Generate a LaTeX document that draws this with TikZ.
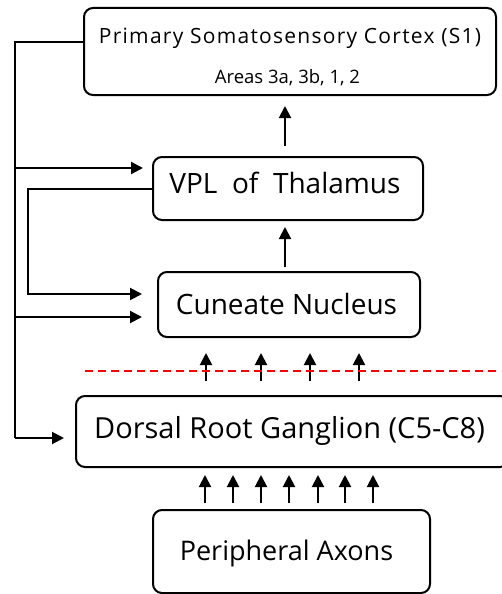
\documentclass[tikz,border=0pt]{standalone}
\usepackage{fontspec}
\setmainfont{Open Sans}
\usetikzlibrary{arrows.meta}
\tikzset{
  box/.style={draw=black, line width=2pt, rounded corners=9pt, inner sep=0pt},
  conn/.style={line width=2pt, -{Triangle[length=12pt,width=12pt]}},
  line/.style={line width=2pt},
  txt/.style={inner sep=0pt, text=black, anchor=base}
}
\begin{document}
\begin{tikzpicture}[x=1pt,y=-1pt]
\useasboundingbox (0,0) rectangle (501,594);
% boxes
\node[box, minimum width=412pt, minimum height=87pt] (s1) at (290,51.5) {};
\node[txt, font=\fontsize{21}{24}\selectfont\addfontfeature{LetterSpace=6}] (s1a) at (290,44) {Primary Somatosensory Cortex (S1)};
\node[txt, font=\fontsize{18.5}{22}\selectfont] (s1b) at (287.5,83) {Areas 3a, 3b, 1, 2};
\node[box, minimum width=270pt, minimum height=63pt] (vpl) at (288,188.5) {};
\node[txt, font=\fontsize{28}{32}\selectfont] (vplt) at (285,193) {VPL\ \ of\ \ Thalamus};
\node[box, minimum width=262pt, minimum height=65pt] (cun) at (289,304.5) {};
\node[txt, font=\fontsize{28}{32}\selectfont] (cunt) at (286.5,314) {Cuneate Nucleus};
\node[box, minimum width=433pt, minimum height=71pt] (drg) at (292.5,431.5) {};
\node[txt, font=\fontsize{29}{32}\selectfont] (drgt) at (289.5,438) {Dorsal Root Ganglion (C5-C8)};
\node[box, minimum width=277pt, minimum height=83pt] (pa) at (291.5,551.5) {};
\node[txt, font=\fontsize{27}{32}\selectfont] (pat) at (286.5,560) {Peripheral Axons};
% vertical arrows
\draw[conn, shorten <=10pt, shorten >=10pt] (vpl.north -| 285,0) -- (s1.south -| 285,0);
\draw[conn, shorten <=4pt, shorten >=6pt] (cun.north -| 285,0) -- (vpl.south -| 285,0);
\foreach \x in {206,261,310,359}
  \draw[conn, shorten <=14pt, shorten >=15pt] (drg.north -| \x,0) -- (cun.south -| \x,0);
\foreach \x in {205,233,261,289,318,345,373}
  \draw[conn, shorten <=6pt, shorten >=7pt] (pa.north -| \x,0) -- (drg.south -| \x,0);
% red dashed line
\coordinate (dl) at (85,371);
\coordinate (dr) at (501,371);
\draw[red, line width=2pt, dash pattern=on 8pt off 5pt] (dl) -- (dr);
% left feedback lines
\coordinate (o1) at (15,42);
\coordinate (o2) at (15,438);
\draw[line] (s1.west |- o1) -- (o1) -- (o2);
\draw[conn, shorten >=11pt] (o2) -- (drg.west |- o2);
\coordinate (b1) at (15,168);
\draw[conn, shorten >=9pt] (b1) -- (vpl.west |- b1);
\coordinate (b2) at (15,317);
\draw[conn, shorten >=15pt] (b2) -- (cun.west |- b2);
\coordinate (i1) at (28,189);
\coordinate (i2) at (28,294);
\draw[conn, shorten >=15pt] (vpl.west |- i1) -- (i1) -- (i2) -- (cun.west |- i2);
\end{tikzpicture}
\end{document}
